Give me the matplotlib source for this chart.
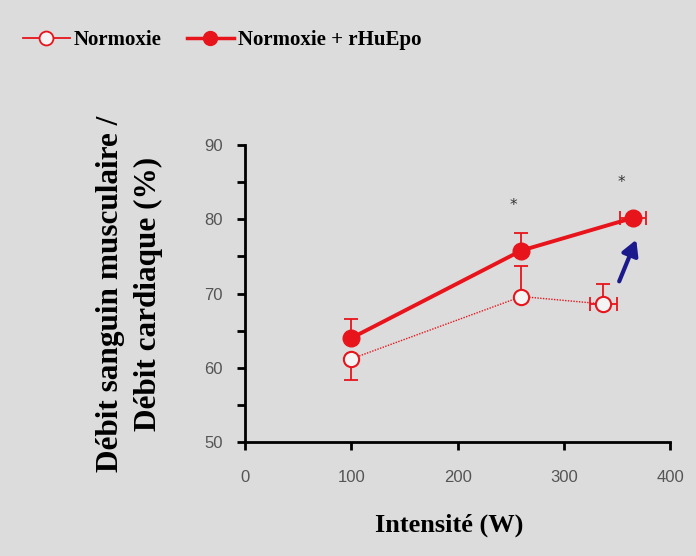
import matplotlib.pyplot as plt
from matplotlib.lines import Line2D

# data
norm_x = [100, 260, 337]
norm_y = [61.2, 69.6, 68.6]
norm_yerr_lo = [2.9, 0, 0]
norm_yerr_hi = [0, 4.1, 2.7]
norm_xerr = [0, 0, 12.5]

epo_x = [100, 260, 365]
epo_y = [64.0, 75.8, 80.2]
epo_yerr_hi = [2.6, 2.3, 0.5]
epo_xerr = [0, 0, 12.5]

star_x = [252, 354]
star_y = [81.8, 85.0]

red = "#e8141b"
bg = "#dcdcdc"
serif = ["Liberation Serif", "DejaVu Serif"]

fig = plt.figure(figsize=(6.96, 5.56), dpi=100, facecolor=bg)
ax = fig.add_axes([0.352, 0.205, 0.611, 0.534], facecolor=bg)

# Normoxie: open circles, dotted line
ax.plot(norm_x, norm_y, color=red, lw=1.0, ls=(0, (1, 1)), zorder=2)
ax.errorbar(norm_x, norm_y, yerr=[norm_yerr_lo, norm_yerr_hi], xerr=norm_xerr,
            fmt="none", ecolor=red, elinewidth=1.3, capsize=5, capthick=1.3, zorder=2)
ax.plot(norm_x, norm_y, "o", ms=11, mfc="#f4f4f4", mec=red, mew=1.5, zorder=3)

# Normoxie + rHuEpo: filled circles, thick line
ax.errorbar(epo_x, epo_y, yerr=[[0, 0, 0], epo_yerr_hi], xerr=epo_xerr,
            fmt="none", ecolor=red, elinewidth=1.3, capsize=5, capthick=1.3, zorder=4)
ax.plot(epo_x, epo_y, "-o", color=red, lw=2.8, ms=12, mfc=red, mec=red, zorder=5)

for sx, sy in zip(star_x, star_y):
    ax.text(sx, sy, "*", ha="center", va="center", fontsize=11, color="#333333")

ax.annotate("", xy=(369, 77.6), xytext=(351, 71.3),
            arrowprops=dict(arrowstyle="-|>,head_length=0.9,head_width=0.5",
                            color="#1a1a8c", lw=3))

ax.set_xlim(0, 400)
ax.set_ylim(50, 90)
ax.set_xticks([0, 100, 200, 300, 400])
ax.set_yticks([50, 60, 70, 80, 90])
ax.set_yticks([55, 65, 75, 85], minor=True)
ax.spines["top"].set_visible(False)
ax.spines["right"].set_visible(False)
ax.spines["left"].set_linewidth(2)
ax.spines["bottom"].set_linewidth(2)
ax.tick_params(axis="both", which="both", width=2, length=6, direction="out",
               colors="black", labelcolor="#555555", labelsize=12, pad=10)
for lab in ax.get_xticklabels() + ax.get_yticklabels():
    lab.set_family("Liberation Sans")
ax.tick_params(axis="x", pad=14)

ax.set_xlabel("Intensité (W)", fontsize=19, fontweight="bold", family=serif)
ax.xaxis.set_label_coords(0.48, -0.24)
ax.set_ylabel("Débit sanguin musculaire /\nDébit cardiaque (%)", fontsize=22.5,
              fontweight="bold", family=serif, linespacing=1.4)
ax.yaxis.set_label_coords(-0.193, 0.5)

handles = [
    Line2D([], [], color=red, lw=1.3, marker="o", ms=10, mfc="#f4f4f4", mec=red, mew=1.3),
    Line2D([], [], color=red, lw=2.5, marker="o", ms=10, mfc=red, mec=red),
]
fig.legend(handles, ["Normoxie", "Normoxie + rHuEpo"], loc="upper left",
           bbox_to_anchor=(0.033, 0.946), ncol=2, frameon=False, handlelength=2.25,
           handletextpad=0.2, columnspacing=1.2, borderpad=0, borderaxespad=0,
           prop={"family": serif, "weight": "bold", "size": 15})

fig.savefig("out.png", dpi=100, facecolor=bg)
